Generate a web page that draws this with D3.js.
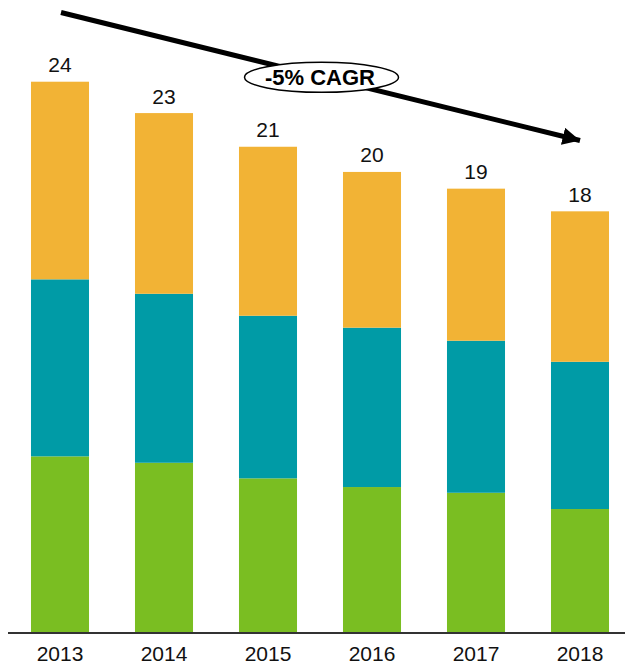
<!DOCTYPE html>
<html>
<head>
<meta charset="utf-8">
<script src="https://cdn.jsdelivr.net/npm/d3@7"></script>
<style>
  html, body { margin: 0; padding: 0; background: #fff; }
  svg { display: block; }
</style>
</head>
<body>
<svg id="chart" width="625" height="671"></svg>
<script>
const years = ["2013", "2014", "2015", "2016", "2017", "2018"];
const seriesNames = ["green", "teal", "orange"];
const greenValues  = [7.67, 7.39, 6.71, 6.33, 6.08, 5.37];
const tealValues   = [7.73, 7.38, 7.10, 6.96, 6.64, 6.43];
const orangeValues = [8.63, 7.89, 7.38, 6.80, 6.64, 6.57];
const colors = ["#7ABE22", "#009BA6", "#F2B335"];
const cagrLabel = "-5% CAGR";

const rows = years.map((y, i) => ({
  year: y, green: greenValues[i], teal: tealValues[i], orange: orangeValues[i]
}));

const svg = d3.select("#chart");
const x = d3.scaleBand().domain(years).range([8, 632]).paddingInner(0.442).paddingOuter(0.221);
const y = d3.scaleLinear().domain([0, 24]).range([632, 82.4]);

const stack = d3.stack().keys(seriesNames);
const stacked = stack(rows);

svg.append("g").selectAll("g").data(stacked).join("g")
  .attr("fill", (d, i) => colors[i])
  .selectAll("rect").data(d => d).join("rect")
  .attr("x", d => x(d.data.year))
  .attr("width", x.bandwidth())
  .attr("y", d => y(d[1]))
  .attr("height", d => y(d[0]) - y(d[1]));

// totals
const fmt = d3.format(".0f");
svg.append("g").selectAll("text").data(rows).join("text")
  .attr("x", d => x(d.year) + x.bandwidth() / 2)
  .attr("y", d => y(d.green + d.teal + d.orange) - 9.5)
  .attr("text-anchor", "middle")
  .attr("font-family", "Liberation Sans, Arial, sans-serif")
  .attr("font-size", 21)
  .attr("fill", "#111")
  .text(d => fmt(d.green + d.teal + d.orange));

// axis
const axis = d3.axisBottom(x).tickSize(0).tickPadding(0);
const gAxis = svg.append("g").attr("transform", "translate(0,633)").call(axis);
gAxis.select(".domain").remove();
gAxis.selectAll("text")
  .attr("y", 28)
  .attr("dy", 0)
  .attr("font-family", "Liberation Sans, Arial, sans-serif")
  .attr("font-size", 21)
  .attr("fill", "#111");
svg.append("line")
  .attr("x1", 8).attr("x2", 625).attr("y1", 633).attr("y2", 633)
  .attr("stroke", "#333").attr("stroke-width", 2);

// arrow
const defs = svg.append("defs");
defs.append("marker")
  .attr("id", "arrowhead")
  .attr("viewBox", "0 0 10 10")
  .attr("refX", 10).attr("refY", 5)
  .attr("markerWidth", 3.5).attr("markerHeight", 3.5)
  .attr("markerUnits", "strokeWidth")
  .attr("orient", "auto")
  .append("path").attr("d", "M0,0 L10,5 L0,10 Z").attr("fill", "#000");

svg.append("line")
  .attr("x1", 61).attr("y1", 12.5)
  .attr("x2", 580).attr("y2", 140.5)
  .attr("stroke", "#000").attr("stroke-width", 5)
  .attr("marker-end", "url(#arrowhead)");

svg.append("ellipse")
  .attr("cx", 321.5).attr("cy", 77.3)
  .attr("rx", 77).attr("ry", 15)
  .attr("fill", "#fff").attr("stroke", "#000").attr("stroke-width", 1.5);

svg.append("text")
  .attr("x", 320).attr("y", 85)
  .attr("text-anchor", "middle")
  .attr("font-family", "Liberation Sans, Arial, sans-serif")
  .attr("font-weight", "bold")
  .attr("font-size", 22)
  .attr("fill", "#000")
  .text(cagrLabel);
</script>
</body>
</html>
